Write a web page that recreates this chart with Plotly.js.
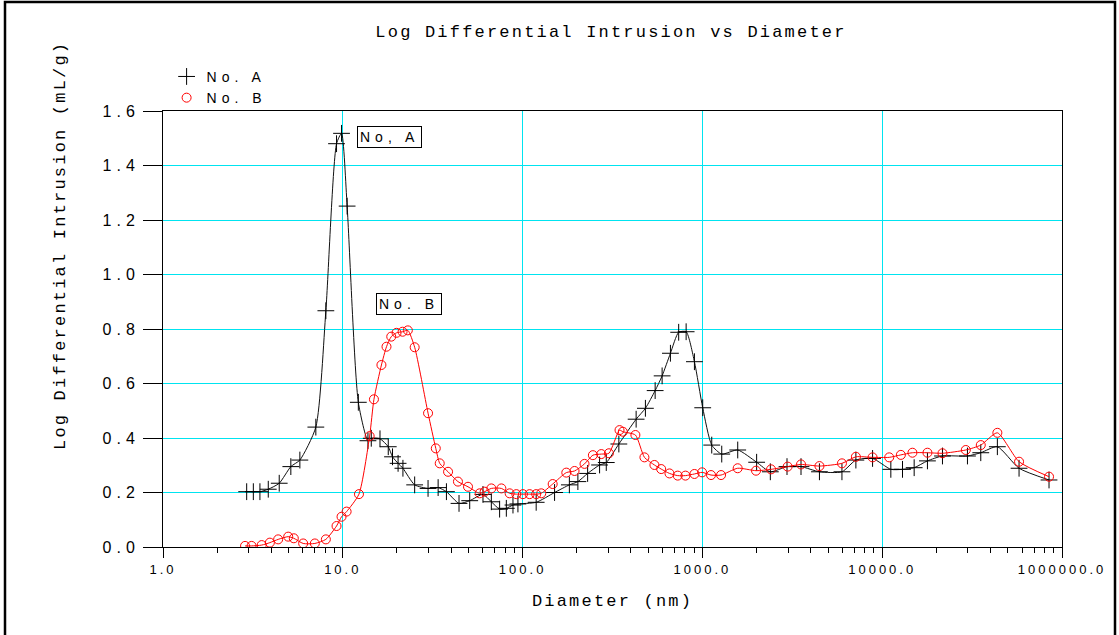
<!DOCTYPE html>
<html>
<head>
<meta charset="utf-8">
<script src="https://cdn.plot.ly/plotly-3.0.1.min.js"></script>
<style>
  html, body { margin: 0; padding: 0; background: #fff; }
  text[style*="Liberation Mono"] { letter-spacing: 2.2px; }
  text[style*="Liberation Sans"] { letter-spacing: 5px; }
  g.xtick > text { letter-spacing: 3px !important; }
  .gridlayer path { shape-rendering: crispEdges; }
</style>
</head>
<body>
<div id="chart" style="width:1119px;height:635px;"></div>
<script>
// Series No. A (diameter nm, log differential intrusion mL/g)
const diamA = [2.92, 3.18, 3.46, 3.85, 4.43, 5.14, 5.77, 7.08, 8.05, 9.23, 9.84, 10.57, 12.2, 13.8, 14.4, 16.1, 17.9, 18.9, 20.3, 21.6, 25.1, 29.8, 33.9, 37.7, 44.3, 50.8, 60.2, 67, 74.5, 81.2, 88.4, 94.2, 119, 150.6, 182, 203, 230, 268, 292, 343, 428, 482, 546, 597, 664, 738, 812, 903, 1004, 1127, 1281, 1572, 2003, 2387, 2955, 3535, 4477, 5972, 7140, 8840, 11170, 12970, 15060, 17850, 21640, 29800, 35340, 43700, 57690, 84690];
const valA  = [0.203, 0.203, 0.203, 0.212, 0.234, 0.295, 0.319, 0.44, 0.867, 1.48, 1.518, 1.251, 0.531, 0.39, 0.399, 0.397, 0.368, 0.331, 0.307, 0.289, 0.228, 0.215, 0.218, 0.203, 0.16, 0.17, 0.193, 0.166, 0.139, 0.142, 0.154, 0.158, 0.164, 0.2, 0.228, 0.24, 0.27, 0.301, 0.31, 0.378, 0.469, 0.509, 0.574, 0.628, 0.711, 0.788, 0.79, 0.68, 0.511, 0.374, 0.341, 0.356, 0.311, 0.276, 0.295, 0.295, 0.276, 0.276, 0.319, 0.325, 0.285, 0.285, 0.291, 0.316, 0.334, 0.334, 0.346, 0.368, 0.289, 0.246];

// Series No. B
const diamB = [2.86, 3.11, 3.54, 3.93, 4.37, 4.97, 5.34, 6.02, 6.99, 8.05, 9.23, 9.84, 10.5, 12.3, 14.1, 14.9, 16.4, 17.5, 18.6, 19.9, 21.5, 23.0, 25.1, 29.8, 32.9, 34.6, 38.5, 43.7, 49.7, 57.7, 61.5, 67.0, 76.2, 84.7, 92.3, 100.4, 109.4, 119, 127, 147, 175, 194.5, 221, 246, 274, 302, 346, 361, 424, 476, 541, 590, 656, 729, 805, 903, 996, 1117, 1270, 1571, 1987, 2409, 2979, 3535, 4477, 5972, 7140, 8840, 10940, 12700, 14730, 17850, 21640, 29170, 35340, 43700, 57690, 84690];
const valB  = [0.004, 0.004, 0.007, 0.016, 0.028, 0.038, 0.032, 0.013, 0.013, 0.028, 0.077, 0.111, 0.13, 0.194, 0.407, 0.542, 0.668, 0.735, 0.772, 0.786, 0.79, 0.795, 0.733, 0.491, 0.362, 0.307, 0.276, 0.24, 0.221, 0.197, 0.203, 0.215, 0.215, 0.197, 0.194, 0.194, 0.194, 0.194, 0.197, 0.231, 0.273, 0.279, 0.305, 0.337, 0.341, 0.344, 0.429, 0.423, 0.411, 0.329, 0.301, 0.286, 0.27, 0.262, 0.262, 0.268, 0.274, 0.264, 0.264, 0.289, 0.28, 0.285, 0.295, 0.303, 0.297, 0.307, 0.331, 0.329, 0.329, 0.338, 0.346, 0.346, 0.344, 0.356, 0.374, 0.419, 0.313, 0.258];

// Axis ticks
const xTickVals = [1, 10, 100, 1000, 10000, 100000];
const xTickText = ["1.0", "10.0", "100.0", "1000.0", "10000.0", "1000000.0"];
const yTickVals = [0, 0.2, 0.4, 0.6, 0.8, 1.0, 1.2, 1.4, 1.6];
const yTickText = ["0.0", "0.2", "0.4", "0.6", "0.8", "1.0", "1.2", "1.4", "1.6"];

const seriesNames = ["No. A", "No. B"];
const labelA = "No, A";
const labelB = "No. B";

const minorVals = [];
for (let e = 0; e < 5; e++) {
  for (let m = 2; m <= 9; m++) minorVals.push(m * Math.pow(10, e));
}

const mono = "Liberation Mono";
const sans = "Liberation Sans";

const traces = [
  {
    x: diamA, y: valA, type: "scatter", mode: "lines+markers", name: seriesNames[0],
    showlegend: false,
    line: {color: "#111", width: 1, shape: "spline", smoothing: 0.6},
    marker: {symbol: "cross-thin", size: 12, line: {color: "#000", width: 1}}
  },
  {
    x: diamB, y: valB, type: "scatter", mode: "lines+markers", name: seriesNames[1],
    showlegend: false,
    line: {color: "#ff0000", width: 1, shape: "spline", smoothing: 0.6},
    marker: {symbol: "circle-open", size: 9, color: "#ff0000", line: {color: "#ff0000", width: 1}}
  },
  {
    x: [null], y: [null], type: "scatter", mode: "markers", name: seriesNames[0],
    marker: {symbol: "cross-thin", size: 12, line: {color: "#000", width: 1}}
  },
  {
    x: [null], y: [null], type: "scatter", mode: "markers", name: seriesNames[1],
    marker: {symbol: "circle-open", size: 9, color: "#ff0000", line: {color: "#ff0000", width: 1}}
  }
];

const layout = {
  width: 1119, height: 635,
  margin: {l: 163, r: 57, t: 111, b: 88},
  paper_bgcolor: "#fff", plot_bgcolor: "#fff",
  title: {
    text: "Log Differential Intrusion vs Diameter",
    font: {family: mono, size: 17, color: "#000"},
    x: 0.546, xanchor: "center", y: 0.951, yanchor: "middle"
  },
  xaxis: {
    type: "log", range: [0, 5],
    tickmode: "array", tickvals: xTickVals, ticktext: xTickText,
    ticks: "outside", ticklen: 10, tickcolor: "#000", tickwidth: 1,
    minor: {tickmode: "array", tickvals: minorVals, ticks: "outside", ticklen: 5, tickcolor: "#000", showgrid: false},
    showgrid: true, gridcolor: "#00e4f0", gridwidth: 1,
    showline: true, mirror: true, linecolor: "#000", linewidth: 1,
    zeroline: false,
    tickfont: {family: sans, size: 13, color: "#000"},
    title: {text: "Diameter (nm)", font: {family: mono, size: 17, color: "#000"}, standoff: 18}
  },
  yaxis: {
    range: [0, 1.6],
    tickmode: "array", tickvals: yTickVals, ticktext: yTickText,
    ticks: "outside", ticklen: 19, tickcolor: "#000", tickwidth: 1,
    showgrid: true, gridcolor: "#00e4f0", gridwidth: 1,
    showline: true, mirror: true, linecolor: "#000", linewidth: 1,
    zeroline: false,
    tickfont: {family: sans, size: 16, color: "#000"}
  },
  legend: {
    x: 0.004, y: 1.115, xanchor: "left", yanchor: "top",
    font: {family: sans, size: 14, color: "#000"},
    bgcolor: "rgba(0,0,0,0)", tracegroupgap: 0, itemwidth: 30
  },
  annotations: [
    {
      xref: "paper", yref: "paper", x: (60 - 163) / 899, y: (547 - 246) / 436,
      text: "Log Differential Intrusion (mL/g)", textangle: -90, showarrow: false,
      font: {family: mono, size: 17, color: "#000"}, xanchor: "center", yanchor: "middle"
    },
    {
      x: Math.log10(18.2), y: 1.505, xref: "x", yref: "y", text: labelA, showarrow: false,
      font: {family: sans, size: 14, color: "#000"},
      bordercolor: "#000", borderwidth: 1, borderpad: 2, bgcolor: "#fff"
    },
    {
      x: Math.log10(23.4), y: 0.892, xref: "x", yref: "y", text: labelB, showarrow: false,
      font: {family: sans, size: 14, color: "#000"},
      bordercolor: "#000", borderwidth: 1, borderpad: 2, bgcolor: "#fff"
    }
  ],
  shapes: [
    {
      type: "rect", xref: "paper", yref: "paper",
      x0: (5 - 163) / 899, x1: (1115 - 163) / 899, y0: (547 - 700) / 436, y1: (547 - 2) / 436,
      line: {color: "#000", width: 2.5}, fillcolor: "rgba(0,0,0,0)", layer: "below"
    }
  ]
};

Plotly.newPlot("chart", traces, layout, {displayModeBar: false, staticPlot: true});
</script>
</body>
</html>
